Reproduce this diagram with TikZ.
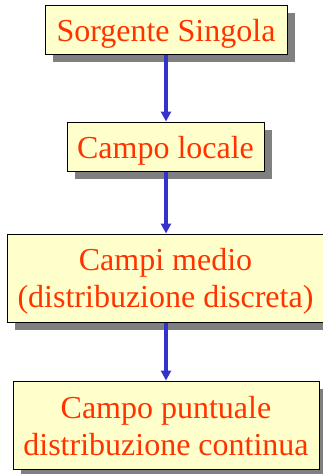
\documentclass[tikz,border=0pt]{standalone}
\usepackage{fontspec}
\setmainfont{Liberation Serif}
\usetikzlibrary{arrows.meta,shadows}
\definecolor{boxfill}{HTML}{FFFFCC}
\definecolor{txtred}{HTML}{FF3300}
\definecolor{arrblue}{HTML}{3333CC}
\definecolor{shadowgray}{HTML}{808080}
\tikzset{
  stagebox/.style={draw=black, line width=1pt, fill=boxfill, text=txtred,
    inner sep=0pt, align=center, font=\fontsize{32}{37}\selectfont,
    general shadow={fill=shadowgray, shadow xshift=8pt, shadow yshift=-8pt}},
  oneline/.style={text height=27pt, text depth=4pt},
  twolineA/.style={text height=62pt, text depth=4pt},
  twolineB/.style={text height=64pt, text depth=4pt},
  flow/.style={draw=arrblue, line width=3.2pt, -{Triangle[width=10pt,length=10pt]}}
}
\begin{document}
\begin{tikzpicture}[x=1pt,y=-1pt]
\fill[white] (0,0) rectangle (323,474);
\useasboundingbox (0,0) rectangle (323,474);
\node[stagebox, oneline, minimum width=242pt, minimum height=49pt] (b1) at (166,29.5) {Sorgente Singola};
\node[stagebox, oneline, minimum width=197pt, minimum height=49pt] (b2) at (165.5,146.5) {Campo locale};
\node[stagebox, twolineA, minimum width=317pt, minimum height=88pt] (b3) at (165.5,278) {Campi medio\\(distribuzione discreta)};
\node[stagebox, twolineB, minimum width=306pt, minimum height=88pt] (b4) at (166,425) {Campo puntuale\\distribuzione continua};
\draw[flow] (b1.south) -- (b1.south |- b2.north);
\draw[flow] (b1.south |- b2.south) -- (b1.south |- b3.north);
\draw[flow] (b1.south |- b3.south) -- (b1.south |- b4.north);
\end{tikzpicture}
\end{document}
